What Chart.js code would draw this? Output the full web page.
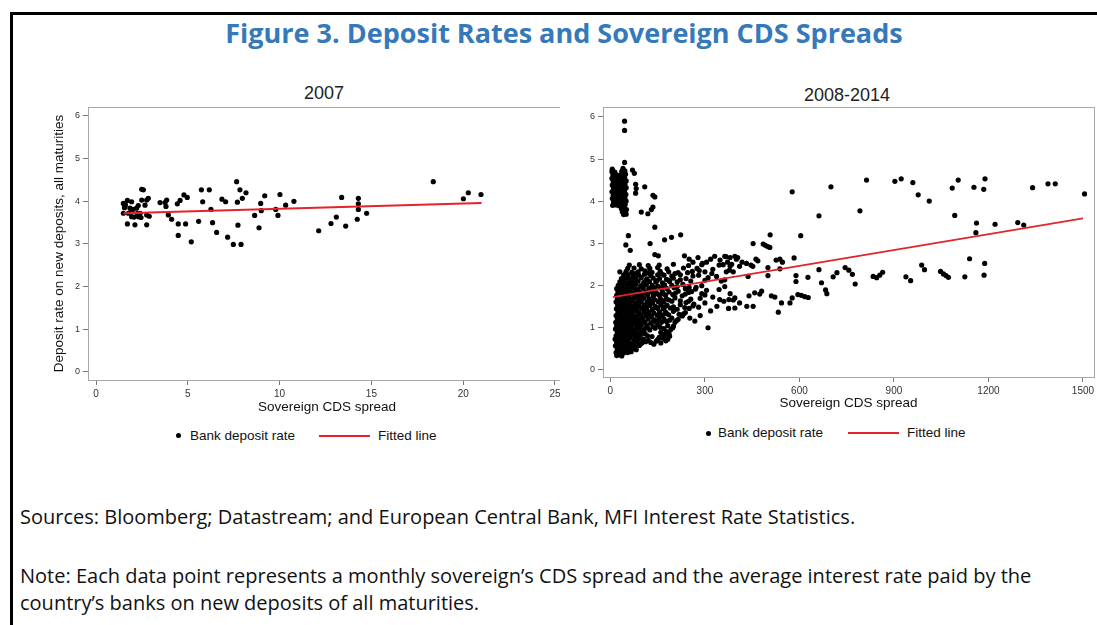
<!DOCTYPE html>
<html><head><meta charset="utf-8">
<script src="https://cdn.jsdelivr.net/npm/chart.js@4.4.1/dist/chart.umd.min.js"></script>
<style>
html,body{margin:0;padding:0;background:#fff;}
body{width:1097px;height:625px;position:relative;overflow:hidden;font-family:"Liberation Sans",Arial,sans-serif;}
#frameTop{position:absolute;left:10px;top:12px;width:1087px;height:3px;background:#000;}
#frameLeft{position:absolute;left:10px;top:12px;width:3px;height:613px;background:#000;}
#title{position:absolute;left:0;width:1128px;top:14px;text-align:center;font-family:"Open Sans",sans-serif;font-weight:700;font-size:27px;line-height:38px;color:#3679ba;white-space:nowrap;}
.ptitle{position:absolute;font-size:18px;color:#222;text-align:center;width:200px;line-height:20px;}
.wrap{position:absolute;overflow:hidden;}
.legend{position:absolute;font-size:13.5px;color:#111;white-space:nowrap;line-height:16px;}
.dot{position:absolute;width:5px;height:5px;border-radius:50%;background:#000;}
.rline{position:absolute;height:2px;background:#e3242b;}
.note{position:absolute;left:20px;font-family:"Open Sans",sans-serif;font-size:20px;color:#111;white-space:nowrap;line-height:24px;}
</style></head>
<body>
<div id="frameTop"></div><div id="frameLeft"></div>
<div id="title">Figure 3. Deposit Rates and Sovereign CDS Spreads</div>
<div class="ptitle" style="left:224px;top:83px;">2007</div>
<div class="ptitle" style="left:747px;top:85px;">2008-2014</div>
<div class="wrap" style="left:40px;top:78px;width:520px;height:345px;"><canvas id="c1" width="530" height="345"></canvas></div>
<div class="wrap" style="left:570px;top:78px;width:527px;height:345px;"><canvas id="c2" width="535" height="345"></canvas></div>

<div class="dot" style="left:176px;top:433px;"></div>
<div class="legend" style="left:190px;top:428px;">Bank deposit rate</div>
<div class="rline" style="left:319px;top:435px;width:51px;"></div>
<div class="legend" style="left:378px;top:428px;">Fitted line</div>

<div class="dot" style="left:706px;top:431px;"></div>
<div class="legend" style="left:718px;top:425px;">Bank deposit rate</div>
<div class="rline" style="left:848px;top:432px;width:51px;"></div>
<div class="legend" style="left:907px;top:425px;">Fitted line</div>

<div class="note" style="top:505px;">Sources: Bloomberg; Datastream; and European Central Bank, MFI Interest Rate Statistics.</div>
<div class="note" style="top:564px;">Note: Each data point represents a monthly sovereign’s CDS spread and the average interest rate paid by the</div>
<div class="note" style="top:591px;">country’s banks on new deposits of all maturities.</div>

<script>
// ---------- DATA ----------
const xTicks2007 = [0, 5, 10, 15, 20, 25];
const xTicksCrisis = [0, 300, 600, 900, 1200, 1500];
const yTicks = [0, 1, 2, 3, 4, 5, 6];
const seriesLabels = ["Bank deposit rate", "Fitted line"];
const xTitle = "Sovereign CDS spread";
const yTitle = "Deposit rate on new deposits, all maturities";

// 2007 panel: [CDS spread, deposit rate]
const points2007 = [
 [1.49,3.95],[1.49,3.72],[1.55,3.85],[1.58,3.88],[1.60,3.92],[1.71,4.02],[1.71,3.47],[1.76,3.72],[1.85,3.84],
 [1.94,3.99],[1.94,3.64],[1.95,3.78],[2.00,3.81],[2.07,3.63],[2.12,3.45],[2.21,3.84],[2.25,3.72],[2.30,3.90],
 [2.31,3.64],[2.40,3.72],[2.45,3.62],[2.49,4.28],[2.58,4.27],[2.49,4.03],[2.67,3.91],[2.76,4.03],[2.76,3.68],
 [2.76,3.45],[2.85,4.07],[2.90,3.65],[3.49,3.97],[3.76,3.97],[3.85,4.03],[3.81,3.88],[3.94,3.68],[4.12,3.58],
 [4.43,3.94],[4.48,3.47],[4.48,3.20],[4.58,4.02],[4.79,4.15],[4.88,3.47],[4.97,4.09],[5.19,3.05],[5.59,3.53],
 [5.74,4.27],[5.81,3.99],[6.17,4.27],[6.26,3.81],[6.35,3.50],[6.57,3.27],[6.86,4.05],[7.06,3.99],[7.17,3.16],
 [7.48,2.99],[7.66,4.46],[7.70,3.98],[7.73,3.44],[7.84,4.27],[7.90,2.99],[7.97,4.07],[8.17,4.20],[8.64,3.67],
 [8.88,3.38],[8.97,3.95],[9.00,3.78],[9.19,4.13],[9.79,3.81],[9.91,3.67],[10.02,4.16],[10.33,3.91],[10.78,4.00],
 [12.13,3.31],[12.80,3.48],[13.09,3.63],[13.38,4.09],[13.60,3.42],[14.23,3.58],[14.29,4.07],[14.29,3.94],
 [14.29,3.81],[14.74,3.72],[18.37,4.46],[20.01,4.06],[20.28,4.20],[20.97,4.16]
];
const fit2007X = [1.5, 21.0];
const fit2007Y = [3.72, 3.96];

// 2008-2014 panel: high-rate cluster at low spreads
const crisisHighCluster = [
 [6,4.76],[40,4.78],[5,4.70],[14,4.69],[36,4.71],[46,4.72],[8,4.62],[18,4.63],[28,4.61],[38,4.62],[48,4.64],
 [5,4.54],[15,4.55],[25,4.53],[35,4.54],[45,4.56],[9,4.46],[19,4.47],[29,4.45],[40,4.46],[50,4.48],
 [6,4.38],[16,4.39],[26,4.37],[36,4.38],[46,4.40],[10,4.30],[20,4.31],[30,4.29],[40,4.30],[50,4.32],
 [5,4.22],[15,4.23],[25,4.21],[35,4.22],[45,4.24],[9,4.14],[19,4.15],[29,4.13],[39,4.14],[49,4.16],
 [6,4.06],[16,4.07],[26,4.05],[36,4.06],[46,4.08],[10,3.98],[20,3.99],[30,3.97],[40,3.98],[50,4.00],
 [7,3.90],[17,3.91],[27,3.89],[37,3.90],[47,3.92],[35,3.82],[45,3.83],[51,3.80],[38,3.74],[48,3.75],
 [42,3.68],[50,3.69],[45,4.92],[45,5.68],[45,5.90],
 [70,4.74],[76,4.66],[80,4.40],[82,4.30],[80,4.19],[109,4.34],[135,4.14],[141,4.10],[135,3.86],[130,3.80],
 [98,3.74],[119,3.70],[141,3.38],[57,3.18],[172,3.08],[194,3.14],[223,3.20],[49,2.96],[63,2.83],[126,2.99],
 [141,2.73],[152,2.70]
];
// dense low-rate core
const crisisCore = [
 [20,0.33],[28,0.35],[36,0.32],
 [18,0.40],[30,0.41],[42,0.39],[55,0.40],[66,0.42],
 [22,0.48],[35,0.47],[48,0.49],[60,0.48],[72,0.50],[82,0.47],
 [16,0.56],[28,0.57],[40,0.55],[52,0.56],[64,0.58],[78,0.55],[92,0.57],
 [20,0.64],[33,0.63],[45,0.65],[58,0.64],[70,0.62],[85,0.65],[100,0.63],[112,0.66],[128,0.64],[145,0.67],[160,0.63],
 [15,0.72],[26,0.73],[38,0.71],[50,0.72],[62,0.74],[75,0.71],[90,0.73],[105,0.72],[150,0.71],[168,0.74],[182,0.72],
 [18,0.80],[30,0.81],[43,0.79],[56,0.80],[68,0.82],[80,0.79],[95,0.81],[118,0.80],[172,0.81],[188,0.79],
 [22,0.88],[35,0.87],[47,0.89],[60,0.88],[73,0.90],[86,0.87],[100,0.89],[160,0.88],[178,0.90],
 [16,0.96],[28,0.97],[40,0.95],[52,0.96],[65,0.98],[78,0.95],[92,0.97],[108,0.96],[125,0.94],[170,0.97],[192,0.95],
 [20,1.04],[32,1.05],[45,1.03],[58,1.04],[70,1.06],[84,1.03],[98,1.05],[115,1.04],[135,1.02],[150,1.06],[182,1.04],[200,1.03],
 [17,1.12],[30,1.13],[42,1.11],[55,1.12],[67,1.14],[80,1.11],[94,1.13],[110,1.12],[128,1.10],[145,1.13],[162,1.12],[178,1.14],[205,1.12],
 [22,1.20],[35,1.21],[48,1.19],[60,1.20],[72,1.22],[88,1.19],[102,1.21],[120,1.20],[140,1.18],[155,1.21],[170,1.20],[195,1.22],[215,1.19],
 [18,1.28],[30,1.29],[42,1.27],[55,1.28],[68,1.30],[82,1.27],[96,1.29],[112,1.28],[130,1.26],[148,1.29],[165,1.28],[185,1.30],[228,1.27],
 [24,1.36],[36,1.37],[50,1.35],[62,1.36],[76,1.38],[90,1.35],[106,1.37],[122,1.36],[138,1.34],[156,1.37],[175,1.36],[200,1.38],[238,1.35],
 [19,1.44],[31,1.45],[44,1.43],[57,1.44],[70,1.46],[85,1.43],[100,1.45],[115,1.44],[133,1.42],[150,1.45],[168,1.44],[190,1.46],[212,1.43],[250,1.45],
 [23,1.52],[36,1.53],[50,1.51],[64,1.52],[78,1.54],[92,1.51],[108,1.53],[125,1.52],[142,1.50],[160,1.53],[180,1.52],[222,1.54],[262,1.51],
 [18,1.60],[30,1.61],[42,1.59],[56,1.60],[70,1.62],[84,1.59],[98,1.61],[116,1.60],[134,1.58],[152,1.61],[170,1.60],[195,1.62],[240,1.59],
 [22,1.68],[35,1.69],[48,1.67],[62,1.68],[76,1.70],[90,1.67],[105,1.69],[122,1.68],[140,1.66],[158,1.69],[178,1.68],[205,1.70],[255,1.67],[285,1.69],
 [20,1.76],[32,1.77],[45,1.75],[58,1.76],[72,1.78],[86,1.75],[100,1.77],[118,1.76],[136,1.74],[155,1.77],[175,1.76],[198,1.78],[228,1.75],[300,1.77],
 [24,1.84],[37,1.85],[50,1.83],[64,1.84],[78,1.86],[94,1.83],[110,1.85],[128,1.84],[146,1.82],[165,1.85],[186,1.84],[215,1.86],[248,1.83],
 [20,1.92],[33,1.93],[46,1.91],[60,1.92],[74,1.94],[88,1.91],[104,1.93],[122,1.92],[140,1.90],[160,1.93],[180,1.92],[202,1.94],[270,1.91],
 [25,2.00],[38,2.01],[52,1.99],[66,2.00],[80,2.02],[96,1.99],[114,2.01],[132,2.00],[150,1.98],[172,2.01],[195,2.00],[230,2.02],[290,1.99],
 [30,2.08],[44,2.09],[58,2.07],[72,2.08],[88,2.10],[106,2.07],[124,2.09],[144,2.08],[165,2.06],[188,2.09],[212,2.08],[255,2.10],
 [35,2.16],[50,2.17],[64,2.15],[80,2.16],[98,2.18],[116,2.15],[136,2.17],[156,2.16],[178,2.14],[200,2.17],[240,2.16],[310,2.18],
 [42,2.24],[56,2.25],[72,2.23],[90,2.24],[108,2.26],[128,2.23],[150,2.25],[170,2.24],[195,2.22],[222,2.25],[280,2.24],
 [30,2.32],[50,2.33],[68,2.31],[88,2.32],[110,2.34],[132,2.31],[158,2.33],[185,2.32],[215,2.30],[260,2.33],[300,2.32],
 [55,2.40],[75,2.41],[98,2.39],[125,2.40],[150,2.42],[180,2.39],[232,2.41],[275,2.40],[325,2.38],
 [60,2.48],[92,2.49],[120,2.47],[155,2.48],[200,2.50],[248,2.47],[290,2.49],[345,2.48],[380,2.46]
];
// extra fill between rows of the core
const crisisCoreFill = [
 [26,0.44],[50,0.44],[70,0.53],[96,0.61],[120,0.69],[138,0.60],[155,0.76],[176,0.68],
 [38,0.84],[82,0.84],[110,0.85],[132,0.78],[166,0.84],[186,0.86],
 [24,1.00],[58,1.00],[88,1.01],[118,0.99],[142,0.98],[158,1.00],[198,0.99],
 [38,1.16],[76,1.16],[104,1.17],[136,1.15],[152,1.16],[188,1.17],[210,1.16],
 [26,1.32],[62,1.32],[90,1.33],[118,1.31],[158,1.32],[178,1.33],[218,1.31],[232,1.32],
 [40,1.48],[80,1.48],[112,1.49],[146,1.47],[172,1.48],[200,1.49],[236,1.47],
 [26,1.64],[64,1.64],[94,1.65],[128,1.63],[164,1.64],[186,1.65],[222,1.63],
 [40,1.80],[80,1.80],[112,1.81],[142,1.79],[168,1.80],[206,1.81],[238,1.79],
 [28,1.96],[70,1.96],[100,1.97],[136,1.95],[166,1.96],[212,1.97],[250,1.95],
 [40,2.12],[76,2.12],[114,2.13],[148,2.11],[186,2.12],[222,2.13],
 [48,2.28],[80,2.28],[120,2.29],[162,2.27],[205,2.28]
];
// moderate spreads
const crisisMid = [
 [235,2.70],[250,2.62],[262,2.55],[278,2.66],[292,2.52],[305,2.55],[318,2.62],[331,2.69],[348,2.60],[363,2.69],
 [372,2.55],[385,2.50],[400,2.62],[410,2.45],[245,2.30],[262,2.22],[282,2.35],[300,2.12],[322,2.28],[337,2.21],
 [352,2.10],[368,2.32],[238,1.92],[258,1.85],[272,1.95],[290,1.80],[305,1.88],[325,1.72],[345,1.90],[363,1.97],
 [380,1.80],[395,1.70],[248,1.62],[265,1.55],[280,1.48],[300,1.58],[318,1.39],[338,1.50],[360,1.62],[375,1.45],
 [395,1.46],[410,1.58],[252,1.22],[268,1.15],[285,1.28],[310,0.99],
 [367,2.68],[380,2.66],[395,2.69],[404,2.66],[418,2.55],[432,2.52],[446,2.48],[452,2.45],[462,2.62],[468,2.58],
 [453,2.99],[485,2.98],[492,2.95],[499,2.92],[506,2.90],[507,3.20],[526,2.60],[538,2.62],[546,2.55],[583,2.65],
 [358,2.49],[378,2.36],[390,2.32],[437,2.21],[500,2.42],[500,2.23],[538,2.39],[589,2.23],[589,2.09],[627,2.19],
 [662,2.37],[670,2.06],[683,1.89],[687,1.80],[363,2.13],[347,1.66],[376,1.66],[390,1.65],[433,1.50],[453,1.50],
 [440,1.75],[458,1.82],[474,1.79],[480,1.86],[511,1.75],[522,1.72],[533,1.36],[543,1.58],[570,1.58],[577,1.70],
 [595,1.78],[606,1.76],[617,1.73],[628,1.71]
];
// high spreads
const crisisFar = [
 [577,4.22],[700,4.34],[813,4.50],[662,3.65],[792,3.77],[604,3.18],
 [903,4.47],[923,4.53],[960,4.44],[977,4.15],[1012,4.00],[1085,4.31],[1104,4.50],[1093,3.66],[1154,4.33],
 [1185,4.28],[1189,4.53],[1162,3.48],[1160,3.25],[1221,3.45],[1293,3.49],[1312,3.43],[1340,4.32],[1389,4.41],
 [1412,4.41],[1505,4.17],
 [707,2.20],[719,2.30],[745,2.42],[757,2.36],[768,2.26],[777,2.03],[834,2.21],[845,2.18],[855,2.24],[864,2.31],
 [938,2.20],[953,2.11],[988,2.48],[997,2.37],[1048,2.33],[1057,2.27],[1065,2.23],[1073,2.19],[1125,2.20],
 [1140,2.63],[1188,2.52],[1186,2.24]
];
const fitCrisisX = [8, 1500];
const fitCrisisY = [1.72, 3.59];

// ---------- CHARTS ----------
const FONT = "'Liberation Sans', Arial, sans-serif";

const framePlugin = {
  id: 'plotFrame',
  beforeDatasetsDraw(chart) {
    const a = chart.chartArea, ctx = chart.ctx;
    ctx.save();
    ctx.strokeStyle = '#a8a8a8';
    ctx.lineWidth = 1;
    ctx.strokeRect(Math.round(a.left) + 0.5, Math.round(a.top) + 0.5, Math.round(a.right - a.left), Math.round(a.bottom - a.top));
    ctx.restore();
  }
};

function makeChart(id, pts, fitX, fitY, cfg) {
  const scatter = pts.map(p => ({x: p[0], y: p[1]}));
  const fit = fitX.map((v, i) => ({x: v, y: fitY[i]}));
  return new Chart(document.getElementById(id), {
    data: {
      datasets: [
        {type: 'line', label: seriesLabels[1], data: fit, borderColor: '#e3242b', borderWidth: 1.8,
         pointRadius: 0, fill: false, order: 0},
        {type: 'scatter', label: seriesLabels[0], data: scatter, backgroundColor: '#000', borderWidth: 0,
         pointRadius: 2.6, order: 1}
      ]
    },
    options: {
      responsive: false, animation: false, events: [],
      layout: {padding: {top: cfg.padTop, right: cfg.padRight, left: 0, bottom: 0}},
      plugins: {legend: {display: false}, tooltip: {enabled: false}, title: {display: false}},
      scales: {
        x: {
          type: 'linear', min: cfg.xMin, max: cfg.xMax,
          afterBuildTicks: s => { s.ticks = cfg.xTicks.map(v => ({value: v})); },
          afterFit: s => { s.height = cfg.xHeight; s.paddingLeft = 0; s.paddingRight = 0; },
          ticks: {font: {family: FONT, size: 10}, color: '#333', padding: 3, maxRotation: 0, autoSkip: false,
                  callback: v => String(v)},
          grid: {display: true, drawOnChartArea: false, drawTicks: true, tickLength: 5, color: '#777', tickColor: '#777'},
          border: {display: true, color: '#666', width: 1},
          title: {display: true, text: xTitle, color: '#111', font: {family: FONT, size: 13.5, lineHeight: 1},
                  padding: {top: 0, bottom: cfg.xTitlePad}}
        },
        y: {
          type: 'linear', min: cfg.yMin, max: cfg.yMax,
          afterBuildTicks: s => { s.ticks = yTicks.map(v => ({value: v})); },
          afterFit: s => { s.width = cfg.yWidth; s.paddingTop = 0; s.paddingBottom = 0; },
          ticks: {font: {family: FONT, size: 9}, color: '#333', padding: 3, autoSkip: false,
                  callback: v => String(v)},
          grid: {display: true, drawOnChartArea: false, drawTicks: true, tickLength: 5, color: '#777', tickColor: '#777'},
          border: {display: true, color: '#666', width: 1},
          title: {display: cfg.showYTitle, text: yTitle, color: '#111', font: {family: FONT, size: 13.5, lineHeight: 1},
                  padding: {top: 13, bottom: 0}}
        }
      }
    },
    plugins: [framePlugin]
  });
}

makeChart('c1', points2007, fit2007X, fit2007Y, {
  xTicks: xTicks2007, xMin: -0.436, xMax: 25.6, yMin: -0.1875, yMax: 6.21,
  padTop: 29, padRight: 4, yWidth: 48, xHeight: 43, xTitlePad: 9, showYTitle: true
});

makeChart('c2', [].concat(crisisHighCluster, crisisCore, crisisCoreFill, crisisMid, crisisFar), fitCrisisX, fitCrisisY, {
  xTicks: xTicksCrisis, xMin: -23.5, xMax: 1535, yMin: -0.18, yMax: 6.237,
  padTop: 29, padRight: 11, yWidth: 33, xHeight: 46, xTitlePad: 13, showYTitle: false
});
</script>
</body></html>
